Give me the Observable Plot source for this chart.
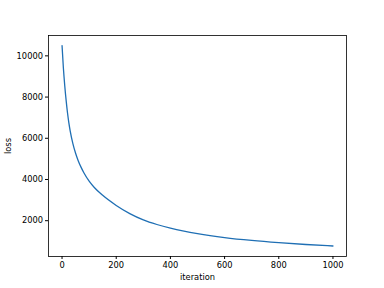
<!DOCTYPE html>
<html>
<head>
<meta charset="utf-8">
<script src="https://cdn.jsdelivr.net/npm/d3@7"></script>
<script src="https://cdn.jsdelivr.net/npm/@observablehq/plot@0.6"></script>
<style>
  html, body { margin: 0; padding: 0; background: #fff; }
</style>
</head>
<body>
<div id="chart"></div>
<script>
const iterations = [0, 5, 10, 15, 20, 25, 30, 40, 50, 60, 70, 80, 100, 120, 150, 200, 250, 300, 350, 400, 450, 500, 600, 700, 800, 900, 1000];
const loss = [10500, 9400, 8550, 7850, 7250, 6760, 6360, 5740, 5270, 4900, 4600, 4340, 3920, 3600, 3230, 2740, 2345, 2040, 1815, 1635, 1490, 1370, 1180, 1040, 932, 845, 771];
const xTicks = [0, 200, 400, 600, 800, 1000];
const yTicks = [2000, 4000, 6000, 8000, 10000];

const data = iterations.map((it, i) => ({iteration: it, loss: loss[i]}));

const chart = Plot.plot({
  width: 384,
  height: 288,
  marginLeft: 48,
  marginRight: 38,
  marginTop: 35,
  marginBottom: 32,
  style: {fontFamily: "DejaVu Sans", fontSize: "8.3px", background: "#fff", color: "#000"},
  x: {domain: [-50, 1050]},
  y: {domain: [262, 10988]},
  marks: [
    Plot.line(data, {x: "iteration", y: "loss", stroke: "#1f6fb4", strokeWidth: 1.3, curve: "monotone-x"}),
    Plot.frame({stroke: "#000", strokeWidth: 0.8}),
    Plot.axisX({ticks: xTicks, tickSize: 3, tickPadding: 2.5, tickFormat: d => String(d),
      label: "iteration", labelAnchor: "center", labelArrow: "none", labelOffset: 23}),
    Plot.axisY({ticks: yTicks, tickSize: 3, tickPadding: 2.5, tickFormat: d => String(d),
      label: "loss", labelAnchor: "center", labelArrow: "none", labelOffset: 43})
  ]
});
document.getElementById("chart").appendChild(chart);
</script>
</body>
</html>
